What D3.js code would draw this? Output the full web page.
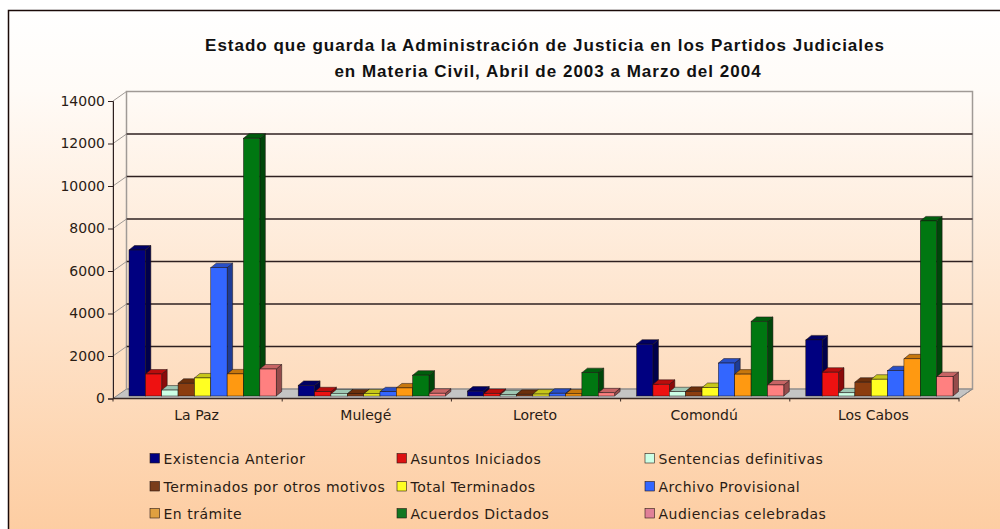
<!DOCTYPE html>
<html>
<head>
<meta charset="utf-8">
<script src="https://cdn.jsdelivr.net/npm/d3@7"></script>
<style>
  html, body { margin: 0; padding: 0; background: #fff; }
  svg { display: block; }
  text { font-family: "DejaVu Sans", sans-serif; fill: #2a1c14; }
</style>
</head>
<body>
<svg id="chart" width="1000" height="529"></svg>
<script>
const partidos = ["La Paz", "Mulegé", "Loreto", "Comondú", "Los Cabos"];
const series = ["Existencia Anterior", "Asuntos Iniciados", "Sentencias definitivas",
    "Terminados por otros motivos", "Total Terminados", "Archivo Provisional",
    "En trámite", "Acuerdos Dictados", "Audiencias celebradas"];
const existencia = [6870, 500, 230, 2440, 2640];
const iniciados = [1035, 200, 120, 550, 1120];
const sentencias = [280, 100, 60, 200, 150];
const otrosMotivos = [600, 100, 80, 220, 650];
const terminados = [850, 100, 90, 400, 790];
const archivo = [6040, 200, 130, 1550, 1190];
const enTramite = [1040, 380, 100, 1030, 1750];
const acuerdos = [12130, 980, 1100, 3510, 8240];
const audiencias = [1270, 130, 150, 520, 910];
const valores = [existencia, iniciados, sentencias, otrosMotivos, terminados, archivo, enTramite, acuerdos, audiencias];
const colores = ["#000080", "#ee1111", "#ccffe6", "#8b3d10", "#ffff22", "#3366ff", "#ff9911", "#007711", "#ff8080"];
const yTicks = d3.range(0, 14001, 2000);

const svg = d3.select("#chart");

// page background, white at the top going to peach
const defs = svg.append("defs");
const grad = defs.append("linearGradient").attr("id", "bg")
    .attr("x1", 0).attr("y1", 0).attr("x2", 0).attr("y2", 1);
grad.append("stop").attr("offset", "0%").attr("stop-color", "#ffffff");
grad.append("stop").attr("offset", "15%").attr("stop-color", "#fffbf7");
grad.append("stop").attr("offset", "100%").attr("stop-color", "#fdcca0");
svg.append("rect").attr("x", 8.5).attr("y", 10.5).attr("width", 1000).attr("height", 530)
    .attr("fill", "url(#bg)").attr("stroke", "#1a0a08").attr("stroke-width", 1.5);

// front plane of the fake 3d box
const x0 = 113, x1 = 959;
const depthX = 13.5, depthY = -9.5;
// band range is shifted 5px, the bars sit off centre from the ticks
const x = d3.scaleBand().domain(partidos).range([x0 + 5, x1 + 5]).paddingInner(0.13).paddingOuter(0.065);
const xTickPos = d3.scaleLinear().domain([0, partidos.length]).range([x0, x1]);
const xSeries = d3.scaleBand().domain(series).range([0, x.bandwidth()]);
const y = d3.scaleLinear().domain([0, 14000]).range([398.5, 101]);

// floor
svg.append("path")
    .attr("d", d3.line()([[x0, y(0)], [x0 + depthX, y(0) + depthY], [x1 + depthX, y(0) + depthY], [x1, y(0)]]))
    .attr("fill", "#c4c4c4").attr("stroke", "#8a8a8a");

// left wall and back wall outline
svg.append("path")
    .attr("d", d3.line()([[x0, y(0)], [x0, y(14000)], [x0 + depthX, y(14000) + depthY], [x0 + depthX, y(0) + depthY]]))
    .attr("fill", "none").attr("stroke", "#a09a96");
svg.append("rect")
    .attr("x", x0 + depthX).attr("y", y(14000) + depthY)
    .attr("width", x1 - x0).attr("height", y(0) - y(14000))
    .attr("fill", "none").attr("stroke", "#a09a96").attr("stroke-width", 1.5);
svg.append("line").attr("x1", x1).attr("y1", y(0)).attr("x2", x1 + depthX).attr("y2", y(0) + depthY)
    .attr("stroke", "#8a8a8a");

// gridlines on the back wall plus the slanted bit on the left wall
const grid = svg.append("g");
yTicks.filter(d => d > 0 && d < 14000).forEach(d => {
    grid.append("line").attr("x1", x0 + depthX).attr("x2", x1 + depthX)
        .attr("y1", y(d) + depthY).attr("y2", y(d) + depthY)
        .attr("stroke", "#2e2020").attr("stroke-width", 1.3);
    grid.append("line").attr("x1", x0).attr("x2", x0 + depthX)
        .attr("y1", y(d)).attr("y2", y(d) + depthY)
        .attr("stroke", "#a09a96");
});

// bars: front face, top and right side
const barDX = 5.5, barDY = -4.5, baseLift = 2.5;
const darker = (c, k) => d3.color(c).darker(k).formatHex();
const barsG = svg.append("g");
partidos.forEach((p, i) => {
    series.forEach((s, j) => {
        const v = valores[j][i];
        const bx = x(p) + xSeries(s), w = xSeries.bandwidth();
        const top = y(v) - baseLift, bot = y(0) - baseLift;
        const g = barsG.append("g").attr("stroke", "#1a1010").attr("stroke-width", 0.5);
        g.append("path").attr("fill", darker(colores[j], 1.5))
            .attr("d", d3.line()([[bx + w, top], [bx + w + barDX, top + barDY], [bx + w + barDX, bot + barDY], [bx + w, bot]]) + "Z");
        g.append("path").attr("fill", darker(colores[j], 0.7))
            .attr("d", d3.line()([[bx, top], [bx + barDX, top + barDY], [bx + w + barDX, top + barDY], [bx + w, top]]) + "Z");
        g.append("rect").attr("x", bx).attr("y", top).attr("width", w).attr("height", bot - top)
            .attr("fill", colores[j]);
    });
});

// axes on the front plane
const yAxis = d3.axisLeft(y).tickValues(yTicks).tickSize(5).tickPadding(3).tickFormat(d3.format("d"));
svg.append("g").attr("transform", `translate(${x0},0)`).call(yAxis)
    .call(g => g.select(".domain").attr("stroke", "#2e2020"))
    .call(g => g.selectAll("line").attr("stroke", "#2e2020"))
    .call(g => g.selectAll("text").attr("font-size", 14).attr("font-family", "DejaVu Sans"));

svg.append("line").attr("x1", x0).attr("x2", x1).attr("y1", y(0)).attr("y2", y(0))
    .attr("stroke", "#3a2a24").attr("stroke-width", 1.5);
d3.range(0, partidos.length + 1).forEach(i => {
    svg.append("line").attr("x1", xTickPos(i)).attr("x2", xTickPos(i))
        .attr("y1", y(0)).attr("y2", y(0) + 3).attr("stroke", "#3a2a24");
});
partidos.forEach((p, i) => {
    svg.append("text").attr("x", xTickPos(i + 0.5) - 1).attr("y", 420)
        .attr("text-anchor", "middle").attr("font-size", 14).text(p);
});

// title
svg.append("text").attr("x", 545).attr("y", 51).attr("text-anchor", "middle")
    .attr("font-weight", "bold").attr("font-size", 17).attr("letter-spacing", 1)
    .style("font-family", "Liberation Sans").style("fill", "#111")
    .text("Estado que guarda la Administración de Justicia en los Partidos Judiciales");
svg.append("text").attr("x", 548).attr("y", 77).attr("text-anchor", "middle")
    .attr("font-weight", "bold").attr("font-size", 17).attr("letter-spacing", 1)
    .style("font-family", "Liberation Sans").style("fill", "#111")
    .text("en Materia Civil, Abril de 2003 a Marzo del 2004");

// legend, 3 columns by 3 rows
const legendX = [150, 397, 645];
const legendY = [458.5, 486.5, 513.5];
const legendColor = ["#000080", "#dd1111", "#ccffe6", "#7a3d1a", "#ffff22", "#3366ff", "#e0a040", "#117722", "#e08098"];
series.forEach((s, j) => {
    const lx = legendX[j % 3], ly = legendY[Math.floor(j / 3)];
    svg.append("rect").attr("x", lx).attr("y", ly - 5).attr("width", 9.5).attr("height", 9.5)
        .attr("fill", legendColor[j]).attr("stroke", "#2a1a14").attr("stroke-width", 0.6);
    svg.append("text").attr("x", lx + 13.5).attr("y", ly + 5).attr("font-size", 14)
        .attr("letter-spacing", 0.5).text(s);
});
</script>
</body>
</html>
